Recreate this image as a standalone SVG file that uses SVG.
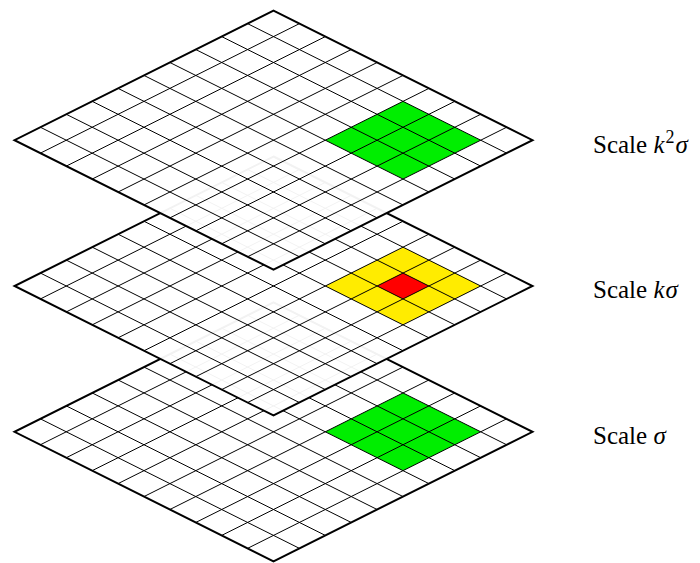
<svg xmlns="http://www.w3.org/2000/svg" xmlns:xlink="http://www.w3.org/1999/xlink" width="700" height="563" viewBox="0 0 700 563">
  <style>
    .bg { fill: #ffffff; fill-opacity: 0.95; stroke: none; }
    .grid line { stroke: #000000; stroke-width: 1; }
    .border { fill: none; stroke: #000000; stroke-width: 2; stroke-linejoin: miter; }
    .green { fill: #00ee00; stroke: none; }
    .yellow { fill: #ffec00; stroke: none; }
    .red { fill: #ff0000; stroke: none; }
    .label { font-family: "Liberation Serif", "DejaVu Serif", serif; font-size: 25px; fill: #000000; }
    .it { font-style: italic; }
  </style>
  <defs>
    <polygon id="diamond" points="0,-129.5 259,0 0,129.5 -259,0"/>
    <polygon id="patch" points="129.5,-38.85 207.2,0 129.5,38.85 51.8,0"/>
    <polygon id="center" points="129.5,-12.95 155.4,0 129.5,12.95 103.6,0"/>
    <g id="grid" class="grid">
      <line x1="25.9" y1="-116.55" x2="-233.1" y2="12.95"/>
      <line x1="51.8" y1="-103.6" x2="-207.2" y2="25.9"/>
      <line x1="77.7" y1="-90.65" x2="-181.3" y2="38.85"/>
      <line x1="103.6" y1="-77.7" x2="-155.4" y2="51.8"/>
      <line x1="129.5" y1="-64.75" x2="-129.5" y2="64.75"/>
      <line x1="155.4" y1="-51.8" x2="-103.6" y2="77.7"/>
      <line x1="181.3" y1="-38.85" x2="-77.7" y2="90.65"/>
      <line x1="207.2" y1="-25.9" x2="-51.8" y2="103.6"/>
      <line x1="233.1" y1="-12.95" x2="-25.9" y2="116.55"/>
      <line x1="-25.9" y1="-116.55" x2="233.1" y2="12.95"/>
      <line x1="-51.8" y1="-103.6" x2="207.2" y2="25.9"/>
      <line x1="-77.7" y1="-90.65" x2="181.3" y2="38.85"/>
      <line x1="-103.6" y1="-77.7" x2="155.4" y2="51.8"/>
      <line x1="-129.5" y1="-64.75" x2="129.5" y2="64.75"/>
      <line x1="-155.4" y1="-51.8" x2="103.6" y2="77.7"/>
      <line x1="-181.3" y1="-38.85" x2="77.7" y2="90.65"/>
      <line x1="-207.2" y1="-25.9" x2="51.8" y2="103.6"/>
      <line x1="-233.1" y1="-12.95" x2="25.9" y2="116.55"/>
    </g>
  </defs>

  <g id="layer-sigma" transform="translate(273.5,431.8)">
    <use xlink:href="#diamond" class="bg"/>
    <use xlink:href="#patch" class="green"/>
    <use xlink:href="#grid"/>
    <use xlink:href="#diamond" class="border"/>
  </g>

  <g id="layer-ksigma" transform="translate(273.5,286)">
    <use xlink:href="#diamond" class="bg"/>
    <use xlink:href="#patch" class="yellow"/>
    <use xlink:href="#center" class="red"/>
    <use xlink:href="#grid"/>
    <use xlink:href="#diamond" class="border"/>
  </g>

  <g id="layer-k2sigma" transform="translate(273.5,140.2)">
    <use xlink:href="#diamond" class="bg"/>
    <use xlink:href="#patch" class="green"/>
    <use xlink:href="#grid"/>
    <use xlink:href="#diamond" class="border"/>
  </g>

  <g id="labels">
    <text class="label" x="593" y="152.5">Scale <tspan class="it">k</tspan><tspan font-size="18" dx="1" dy="-10">2</tspan><tspan class="it" dx="1" dy="10">σ</tspan></text>
    <text class="label" x="593" y="298.3">Scale <tspan class="it">k</tspan><tspan class="it" dx="1">σ</tspan></text>
    <text class="label" x="593" y="444">Scale <tspan class="it">σ</tspan></text>
  </g>
</svg>
